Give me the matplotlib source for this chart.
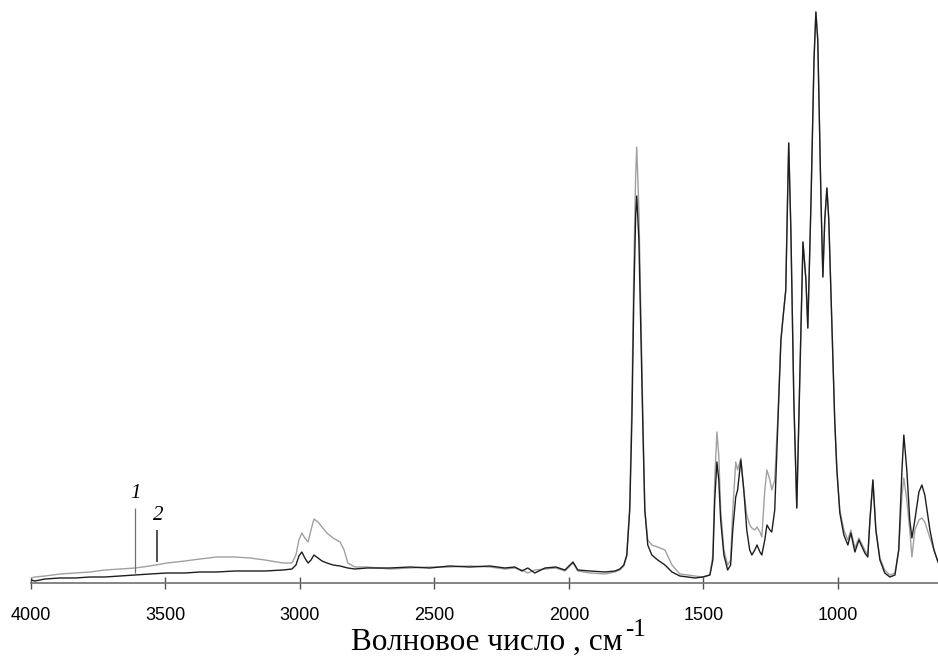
import matplotlib.pyplot as plt

# ИК-спектры двух образцов (интенсивность в отн. ед.)
wn = [4000, 3985, 3948, 3892, 3836, 3781, 3725, 3669, 3613, 3558, 3494, 3428, 3372, 3309,
      3242, 3186, 3130, 3063, 3030, 3015, 3004, 2993, 2982, 2970, 2959, 2948, 2933, 2918,
      2900, 2877, 2851, 2836, 2822, 2796, 2751, 2666, 2591, 2517, 2443, 2368, 2294, 2238,
      2201, 2175, 2153, 2127, 2089, 2049, 2015, 1985, 1967, 1922, 1866, 1829, 1811, 1796,
      1785, 1774, 1766, 1759, 1752, 1748, 1740, 1733, 1725, 1718, 1707, 1692, 1670, 1643,
      1617, 1588, 1558, 1532, 1502, 1476, 1465, 1458, 1450, 1443, 1436, 1424, 1410, 1399,
      1391, 1380, 1373, 1361, 1350, 1339, 1328, 1320, 1309, 1301, 1290, 1283, 1272, 1264,
      1253, 1246, 1235, 1224, 1212, 1205, 1194, 1186, 1183, 1175, 1164, 1153, 1142, 1130,
      1119, 1112, 1100, 1089, 1082, 1075, 1063, 1056, 1049, 1041, 1034, 1023, 1012, 1004,
      993, 978, 963, 952, 937, 922, 900, 889, 881, 870, 859, 844, 826, 807, 788, 774,
      762, 755, 744, 733, 725, 714, 699, 688, 677, 658, 643, 628]

spec1 = [3, 2, 4, 5, 5, 6, 6, 7, 8, 9, 10, 10, 11, 11,
         12, 12, 12, 13, 14, 18, 27, 31, 25, 20, 23, 28, 25, 22,
         20, 18, 17, 16, 15, 14, 15, 15, 16, 15, 17, 16, 17, 15,
         16, 12, 15, 10, 15, 16, 13, 21, 13, 12, 11, 12, 14, 18,
         28, 73, 163, 283, 368, 387, 343, 253, 153, 73, 38, 28, 23, 18,
         11, 7, 6, 5, 6, 8, 23, 83, 121, 103, 63, 28, 13, 18,
         53, 86, 93, 123, 93, 53, 33, 28, 33, 38, 31, 28, 43, 58,
         53, 51, 73, 153, 243, 263, 293, 403, 440, 353, 183, 75, 203, 341,
         303, 255, 383, 523, 571, 543, 383, 306, 363, 395, 363, 263, 163, 113,
         70, 48, 38, 50, 31, 43, 30, 26, 63, 103, 53, 23, 10, 6, 8, 33,
         113, 148, 113, 63, 45, 63, 91, 98, 88, 53, 33, 21]

spec2 = [5, 6, 7, 9, 10, 11, 13, 14, 15, 17, 20, 22, 24, 26,
         26, 25, 23, 20, 20, 28, 43, 50, 45, 41, 53, 64, 61, 56,
         50, 45, 41, 33, 20, 16, 16, 14, 15, 16, 16, 17, 16, 14,
         15, 13, 10, 13, 14, 15, 12, 20, 12, 10, 9, 11, 13, 17,
         27, 78, 183, 313, 408, 436, 373, 273, 163, 73, 43, 38, 36, 33,
         18, 9, 8, 7, 6, 8, 28, 103, 151, 128, 73, 33, 18, 23,
         73, 121, 113, 125, 93, 68, 58, 55, 53, 56, 51, 46, 93, 113,
         103, 93, 103, 163, 243, 263, 293, 408, 440, 353, 183, 75, 203, 341,
         303, 255, 383, 523, 571, 543, 383, 306, 363, 395, 363, 263, 163, 113,
         73, 53, 43, 53, 35, 45, 33, 28, 63, 103, 53, 25, 13, 8, 10, 33,
         88, 105, 83, 53, 26, 53, 63, 65, 61, 45, 33, 21]

W, H = 938, 658
fig = plt.figure(figsize=(W / 100, H / 100), dpi=100)
ax = fig.add_axes([31 / W, 75 / H, 907 / W, 583 / H])

ax.plot(wn, spec2, color='#a0a0a0', lw=1.0)
ax.plot(wn, spec1, color='#1e1e1e', lw=1.0)

# подписи кривых
ax.vlines(3613, 10, 75, color='#707070', lw=0.9)
ax.vlines(3532, 21, 53, color='#202020', lw=1.1)
ax.text(3610, 80, '1', family='Liberation Serif', style='italic', fontsize=15,
        ha='center', va='bottom')
ax.text(3527, 58, '2', family='Liberation Serif', style='italic', fontsize=15,
        ha='center', va='bottom')

ax.set_xlim(4000, 628)
ax.set_ylim(0, 583)
ax.set_xticks([4000, 3500, 3000, 2500, 2000, 1500, 1000])
ax.tick_params(axis='x', direction='inout', length=9, width=1, color='#505050',
               labelsize=13, pad=13)
for lbl in ax.get_xticklabels():
    lbl.set_family('Liberation Sans')
ax.set_yticks([])
for s in ['left', 'top', 'right']:
    ax.spines[s].set_visible(False)
ax.spines['bottom'].set_color('#707070')
ax.spines['bottom'].set_linewidth(1.2)

# подпись оси (верхний индекс отдельным текстом, как в оригинале)
fig.text(623 / W, 8 / H, 'Волновое число , см', family='Liberation Serif',
         fontsize=22.5, ha='right', va='baseline')
fig.text(625 / W, 22 / H, '-1', family='Liberation Serif', fontsize=18,
         ha='left', va='baseline')

fig.savefig('out.png', dpi=100)
